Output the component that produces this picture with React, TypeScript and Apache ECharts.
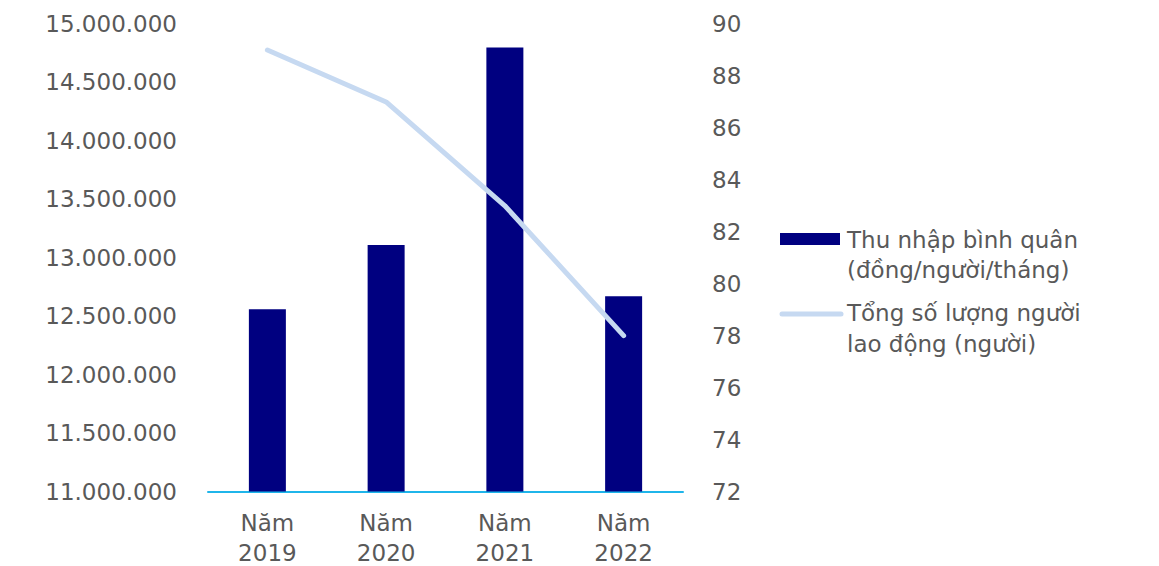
import React, { useEffect, useRef } from "react";
import * as echarts from "echarts";

const years = ["2019", "2020", "2021", "2022"];
const categoryPrefix = "Năm";
const incomeValues = [12560000, 13110000, 14800000, 12670000];
const workerValues = [89, 87, 83, 78];
const incomeName = "Thu nhập bình quân\n(đồng/người/tháng)";
const workerName = "Tổng số lượng người\nlao động (người)";

const FONT = "DejaVu Sans";
const GRAY = "#595959";
const NAVY = "#000080";
const LIGHT = "#C6D9F1";
const FS = 23;

function fmtDots(v: number): string {
  return String(Math.round(v)).replace(/\B(?=(\d{3})+(?!\d))/g, ".");
}

export default function App() {
  const ref = useRef<HTMLDivElement>(null);
  useEffect(() => {
    if (!ref.current) return;
    const chart = echarts.init(ref.current, undefined, { renderer: "svg" });
    const incomeLines = incomeName.split("\n");
    const workerLines = workerName.split("\n");
    const legendText = (y: number, text: string) => ({
      type: "text",
      x: 847,
      y,
      style: {
        text,
        fill: GRAY,
        font: `${FS}px "${FONT}"`,
        verticalAlign: "middle",
      },
    });
    chart.setOption({
      animation: false,
      textStyle: { fontFamily: FONT },
      grid: {
        left: 208,
        right: 476,
        top: 24,
        bottom: 74.5,
        containLabel: false,
        outerBoundsMode: "none",
      },
      xAxis: {
        type: "category",
        data: years.map((y) => categoryPrefix + "\n" + y),
        axisLine: { show: true, lineStyle: { color: "#1FB5EA", width: 2 } },
        axisTick: { show: false },
        axisLabel: {
          color: GRAY,
          fontFamily: FONT,
          fontSize: FS,
          lineHeight: 30,
          margin: 16,
        },
      },
      yAxis: [
        {
          type: "value",
          min: 11000000,
          max: 15000000,
          interval: 500000,
          axisLine: { show: false },
          axisTick: { show: false },
          splitLine: { show: false },
          axisLabel: {
            color: GRAY,
            fontFamily: FONT,
            fontSize: FS,
            margin: 31,
            formatter: (v: number) => fmtDots(v),
          },
        },
        {
          type: "value",
          min: 72,
          max: 90,
          interval: 2,
          position: "right",
          axisLine: { show: false },
          axisTick: { show: false },
          splitLine: { show: false },
          axisLabel: {
            color: GRAY,
            fontFamily: FONT,
            fontSize: FS,
            margin: 29,
          },
        },
      ],
      series: [
        {
          name: incomeName,
          type: "bar",
          yAxisIndex: 0,
          data: incomeValues,
          barWidth: 37,
          itemStyle: { color: NAVY },
        },
        {
          name: workerName,
          type: "line",
          yAxisIndex: 1,
          data: workerValues,
          symbol: "none",
          lineStyle: { color: LIGHT, width: 5, cap: "round", join: "round" },
          itemStyle: { color: LIGHT },
          z: 3,
        },
      ],
      graphic: [
        {
          type: "rect",
          left: 780,
          top: 233,
          shape: { width: 60, height: 12 },
          style: { fill: NAVY },
        },
        legendText(240, incomeLines[0]),
        legendText(270, incomeLines[1]),
        {
          type: "line",
          shape: { x1: 782, y1: 314, x2: 841, y2: 314 },
          style: { stroke: LIGHT, lineWidth: 5, lineCap: "round" },
        },
        legendText(313, workerLines[0]),
        legendText(344, workerLines[1]),
      ],
    });
    return () => chart.dispose();
  }, []);
  return (
    <div
      ref={ref}
      style={{ position: "fixed", left: 0, top: 0, width: 1159, height: 566, background: "#fff" }}
    />
  );
}
